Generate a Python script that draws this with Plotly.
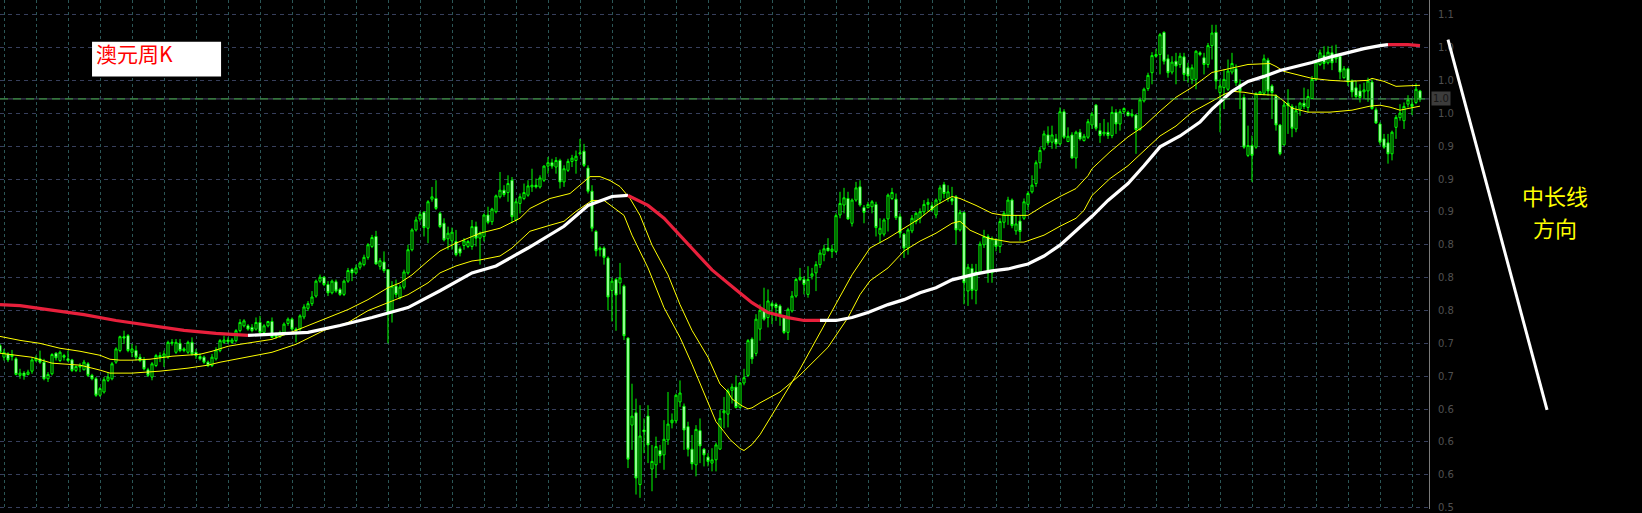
import plotly.graph_objects as go

# ---------------- data: weekly AUD candles (bar index 0..355) ----------------
bars = list(range(356))

opens = [
 .7633,.7510,.7545,.7517,.7492,.7316,.7340,.7326,.7361,.7474,
 .7492,.7457,.7280,.7333,.7552,.7474,.7527,.7492,.7481,.7369,
 .7421,.7376,.7439,.7316,.7280,.7104,.7139,.7263,.7280,.7457,
 .7580,.7728,.7739,.7562,.7580,.7510,.7481,.7376,.7298,.7421,
 .7527,.7517,.7510,.7658,.7562,.7658,.7580,.7562,.7668,.7562,
 .7517,.7510,.7457,.7421,.7492,.7580,.7668,.7693,.7668,.7686,
 .7792,.7844,.7844,.7827,.7809,.7880,.7774,.7844,.7890,.7756,
 .7728,.7756,.7869,.7915,.7809,.7809,.7939,.8031,.8080,.8161,
 .8320,.8362,.8284,.8196,.8313,.8232,.8179,.8320,.8443,.8408,
 .8468,.8496,.8574,.8690,.8796,.8478,.8524,.8443,.7985,.8267,
 .8144,.8256,.8408,.8655,.8866,.8982,.9053,.8884,.9194,.9201,
 .9042,.8937,.8771,.8750,.8743,.8665,.8700,.8690,.8690,.8901,
 .8778,.8796,.9025,.8954,.9060,.9219,.9289,.9264,.9395,.8972,
 .9148,.9201,.9236,.9324,.9342,.9324,.9395,.9546,.9582,.9536,
 .9606,.9377,.9501,.9596,.9606,.9677,.9705,.9525,.9279,.8849,
 .8655,.8672,.8567,.8221,.8337,.8302,.8267,.7714,.6786,.6917,
 .6152,.6734,.6882,.6318,.6363,.6515,.6469,.6628,.6811,.6832,
 .7033,.6987,.6769,.6529,.6363,.6727,.6529,.6445,.6381,.6416,
 .6530,.6917,.6903,.7157,.7192,.6974,.7235,.7316,.7703,.7550,
 .7809,.8020,.7932,.8080,.8073,.8056,.7932,.7774,.8003,.8161,
 .8338,.8338,.8179,.8373,.8408,.8496,.8602,.8673,.8637,.8637,
 .9025,.9131,.9201,.8937,.9184,.9325,.9103,.9103,.9113,.9138,
 .8821,.8821,.8983,.9201,.9194,.9007,.8821,.8673,.8856,.8955,
 .8990,.9060,.9138,.9124,.9025,.9184,.9349,.9201,.9201,.9219,
 .8866,.9050,.8215,.8454,.8222,.8420,.8708,.8796,.8408,.8761,
 .8690,.8948,.9025,.9184,.8856,.8960,.8990,.9138,.9272,.9360,
 .9582,.9730,.9878,.9801,.9836,.9783,1.0125,.9808,.9878,.9632,
 .9907,.9818,.9854,.9984,1.0196,.9924,.9889,.9907,.9871,1.0118,
 .9995,1.0125,1.0118,1.0083,1.0090,.9935,1.0241,1.0372,1.0541,1.0735,
 1.0735,1.0971,1.0689,1.0548,1.0664,1.0629,1.0710,1.0594,1.0470,1.0470,
 1.0753,1.0700,1.0629,1.0830,1.0971,1.0330,1.0382,1.0365,1.0548,1.0583,
 1.0418,1.0277,.9660,.9766,.9748,1.0312,1.0322,1.0675,1.0400,1.0294,
 .9984,.9773,1.0217,1.0182,.9942,1.0153,1.0217,1.0171,1.0266,1.0470,
 1.0629,1.0724,1.0647,1.0753,1.0689,1.0717,1.0488,1.0583,1.0453,1.0380,
 1.0347,1.0337,1.0347,1.0442,1.0146,.9995,.9836,.9794,.9677,.9959,
 1.0062,1.0030,1.0206,1.0206,1.0224,1.0347]

highs = [
 .7651,.7598,.7562,.7587,.7510,.7386,.7361,.7376,.7510,.7527,
 .7580,.7492,.7351,.7552,.7562,.7580,.7545,.7580,.7492,.7421,
 .7446,.7481,.7457,.7333,.7298,.7192,.7298,.7351,.7457,.7615,
 .7739,.7792,.7756,.7651,.7633,.7545,.7510,.7397,.7457,.7545,
 .7562,.7580,.7686,.7703,.7703,.7703,.7615,.7686,.7721,.7598,
 .7552,.7527,.7474,.7545,.7615,.7703,.7739,.7721,.7714,.7809,
 .7915,.7915,.7862,.7862,.7933,.7950,.7862,.7897,.7933,.7774,
 .7792,.7880,.7933,.7933,.7827,.7967,.8073,.8108,.8214,.8337,
 .8390,.8372,.8320,.8337,.8337,.8249,.8337,.8461,.8461,.8496,
 .8531,.8602,.8725,.8813,.8856,.8567,.8637,.8443,.8320,.8337,
 .8284,.8443,.8708,.8884,.9007,.9060,.9067,.9183,.9324,.9395,
 .9060,.8990,.8901,.8891,.8866,.8690,.8778,.8760,.8972,.8954,
 .8849,.9042,.9113,.9102,.9243,.9483,.9342,.9448,.9430,.9201,
 .9254,.9360,.9395,.9518,.9413,.9448,.9554,.9642,.9624,.9642,
 .9624,.9554,.9624,.9666,.9712,.9836,.9783,.9554,.9342,.8866,
 .8690,.8690,.8584,.8355,.8355,.8514,.8284,.7721,.7227,.7068,
 .6998,.6857,.6998,.6575,.6663,.6575,.6839,.7139,.6910,.7121,
 .7262,.7016,.6822,.6681,.6786,.6857,.6540,.6487,.6540,.6600,
 .6946,.7086,.7175,.7228,.7316,.7245,.7386,.7703,.7721,.7968,
 .8073,.8250,.8232,.8102,.8091,.8073,.7950,.8038,.8214,.8355,
 .8461,.8373,.8479,.8461,.8532,.8655,.8708,.8778,.8708,.9043,
 .9272,.9314,.9272,.9201,.9378,.9395,.9131,.9166,.9184,.9166,
 .8990,.8990,.9254,.9314,.9254,.9043,.8831,.8884,.9025,.9060,
 .9096,.9184,.9201,.9166,.9201,.9342,.9378,.9342,.9325,.9237,
 .9080,.9060,.8504,.8504,.8504,.8743,.8867,.8820,.8796,.8779,
 .8990,.9068,.9219,.9201,.9025,.9025,.9201,.9279,.9448,.9607,
 .9748,.9924,.9970,.9977,.9889,1.0171,1.0153,.9959,.9907,.9924,
 .9942,.9889,1.0048,1.0125,1.0206,1.0005,1.0048,1.0012,1.0182,1.0153,
 1.0153,1.0171,1.0136,1.0153,1.0100,1.0277,1.0382,1.0541,1.0760,1.0795,
 1.0964,1.0982,1.0735,1.0717,1.0753,1.0753,1.0753,1.0647,1.0629,1.0781,
 1.0770,1.0753,1.0858,1.1052,1.1052,1.0470,1.0576,1.0682,1.0753,1.0629,
 1.0470,1.0312,.9977,.9871,1.0330,1.0347,1.0735,1.0700,1.0418,1.0312,
 .9995,1.0241,1.0365,1.0206,1.0189,1.0231,1.0382,1.0365,1.0506,1.0682,
 1.0788,1.0823,1.0823,1.0830,1.0840,1.0724,1.0612,1.0594,1.0470,1.0453,
 1.0418,1.0435,1.0488,1.0470,1.0171,1.0012,.9889,.9889,.9924,1.0090,
 1.0206,1.0224,1.0301,1.0266,1.0428,1.0358]

lows = [
 .7545,.7474,.7457,.7474,.7316,.7280,.7270,.7316,.7333,.7457,
 .7439,.7263,.7245,.7316,.7474,.7457,.7474,.7457,.7351,.7351,
 .7351,.7369,.7298,.7263,.7087,.7087,.7122,.7245,.7263,.7439,
 .7562,.7651,.7562,.7510,.7474,.7457,.7369,.7298,.7263,.7404,
 .7457,.7404,.7492,.7633,.7545,.7562,.7562,.7545,.7527,.7492,
 .7474,.7439,.7404,.7404,.7474,.7562,.7651,.7651,.7651,.7668,
 .7774,.7827,.7792,.7774,.7792,.7756,.7756,.7827,.7714,.7703,
 .7714,.7739,.7844,.7792,.7668,.7791,.7914,.8003,.8055,.8144,
 .8302,.8267,.8161,.8179,.8196,.8161,.8161,.8302,.8320,.8390,
 .8443,.8478,.8549,.8672,.8496,.8443,.8408,.7657,.7879,.8144,
 .8126,.8232,.8390,.8637,.8849,.8954,.8796,.8725,.9166,.9078,
 .8884,.8743,.8655,.8655,.8584,.8584,.8655,.8672,.8655,.8690,
 .8496,.8743,.8926,.8919,.9042,.9201,.9219,.9166,.8937,.8954,
 .9042,.9183,.9219,.9271,.9307,.9307,.9377,.9465,.9518,.9465,
 .9307,.9324,.9483,.9536,.9465,.9659,.9536,.9254,.8849,.8584,
 .8584,.8496,.8010,.7890,.7791,.8179,.7692,.6328,.6522,.6046,
 .6011,.6487,.6381,.6081,.6222,.6381,.6310,.6575,.6751,.6804,
 .6980,.6522,.6452,.6310,.6240,.6381,.6346,.6346,.6293,.6293,
 .6523,.6752,.6762,.7016,.6963,.6963,.7210,.7298,.7439,.7520,
 .7686,.7897,.7827,.7862,.7897,.7844,.7756,.7693,.7985,.8144,
 .8320,.8179,.8144,.8338,.8214,.8461,.8532,.8637,.8567,.8620,
 .8990,.9043,.8972,.8902,.9166,.9113,.8937,.9096,.9043,.8796,
 .8725,.8796,.8849,.9184,.8972,.8778,.8567,.8602,.8831,.8926,
 .8937,.9025,.9060,.9060,.8990,.9148,.9201,.9166,.9131,.8708,
 .8849,.8074,.8056,.8126,.8074,.8400,.8673,.8303,.8303,.8638,
 .8620,.8884,.8920,.8884,.8814,.8750,.8972,.9078,.9254,.9325,
 .9519,.9713,.9766,.9730,.9730,.9766,.9836,.9801,.9625,.9519,
 .9818,.9808,.9836,.9942,.9924,.9794,.9864,.9836,.9843,.9889,
 .9924,1.0100,1.0076,1.0065,.9677,.9924,1.0224,1.0347,1.0418,1.0700,
 1.0523,1.0629,1.0488,1.0523,1.0418,1.0594,1.0453,1.0435,1.0418,1.0365,
 1.0717,1.0523,1.0594,1.0682,1.0365,.9907,1.0153,1.0347,1.0523,1.0400,
 1.0153,.9730,.9642,.9378,.9730,1.0301,1.0301,1.0294,1.0048,.9924,
 .9660,.9766,.9889,.9854,.9907,1.0083,1.0153,1.0118,1.0259,1.0453,
 1.0612,1.0576,1.0629,1.0569,1.0647,1.0470,1.0478,1.0400,1.0277,1.0266,
 1.0224,1.0259,1.0231,1.0146,.9995,.9773,.9730,.9572,.9607,.9836,
 1.0030,.9942,1.0171,1.0090,1.0206,1.0231]

closes = [
 .7562,.7562,.7481,.7538,.7326,.7340,.7312,.7351,.7481,.7499,
 .7457,.7280,.7326,.7538,.7503,.7562,.7510,.7474,.7369,.7411,
 .7404,.7457,.7316,.7280,.7104,.7175,.7270,.7298,.7439,.7598,
 .7728,.7714,.7580,.7598,.7510,.7474,.7386,.7316,.7439,.7527,
 .7510,.7545,.7668,.7668,.7668,.7580,.7598,.7668,.7545,.7527,
 .7492,.7457,.7421,.7510,.7587,.7686,.7693,.7675,.7693,.7792,
 .7880,.7897,.7809,.7792,.7880,.7774,.7844,.7890,.7721,.7728,
 .7774,.7862,.7915,.7809,.7792,.7950,.8045,.8080,.8151,.8320,
 .8362,.8284,.8196,.8320,.8214,.8179,.8320,.8433,.8408,.8461,
 .8514,.8574,.8708,.8785,.8503,.8538,.8433,.7967,.8267,.8179,
 .8256,.8418,.8655,.8866,.8972,.9032,.8891,.9166,.9219,.9095,
 .8901,.8760,.8831,.8842,.8602,.8619,.8750,.8743,.8901,.8778,
 .8831,.9025,.8947,.9088,.9229,.9289,.9243,.9360,.9007,.9166,
 .9219,.9264,.9335,.9342,.9324,.9420,.9546,.9582,.9546,.9606,
 .9377,.9518,.9596,.9631,.9652,.9687,.9554,.9279,.8884,.8644,
 .8672,.8574,.8151,.8320,.8172,.8355,.7738,.6423,.6882,.6222,
 .6670,.6716,.6575,.6399,.6557,.6459,.6635,.6797,.6839,.7104,
 .7128,.6734,.6529,.6374,.6741,.6564,.6469,.6399,.6416,.6575,
 .6857,.6939,.7150,.7192,.6974,.7235,.7291,.7686,.7492,.7915,
 .8010,.7915,.8109,.8056,.8038,.7960,.7774,.8020,.8161,.8338,
 .8362,.8285,.8338,.8398,.8496,.8620,.8665,.8644,.8662,.9018,
 .9148,.9208,.8983,.9184,.9314,.9131,.9053,.9138,.9166,.8891,
 .8884,.8972,.9237,.9265,.8997,.8831,.8673,.8866,.8990,.9043,
 .9060,.9138,.9159,.9078,.9184,.9314,.9254,.9272,.9173,.8866,
 .9050,.8303,.8468,.8222,.8420,.8715,.8796,.8408,.8772,.8690,
 .8955,.9043,.9184,.8912,.8930,.8849,.9166,.9254,.9343,.9582,
 .9713,.9889,.9794,.9878,.9783,1.0125,.9854,.9864,.9632,.9907,
 .9836,.9864,1.0019,1.0100,.9949,.9871,.9907,.9871,1.0118,.9995,
 1.0125,1.0160,1.0083,1.0100,.9935,1.0252,1.0365,1.0513,1.0724,1.0717,
 1.0946,1.0664,1.0541,1.0654,1.0612,1.0717,1.0523,1.0506,1.0594,1.0770,
 1.0735,1.0629,1.0830,1.0964,1.0453,1.0400,1.0470,1.0559,1.0640,1.0435,
 1.0347,.9748,.9766,.9660,1.0322,1.0337,1.0689,1.0347,1.0330,.9984,
 .9677,1.0196,1.0189,.9949,1.0136,1.0217,1.0182,1.0287,1.0470,1.0654,
 1.0753,1.0640,1.0760,1.0647,1.0710,1.0548,1.0583,1.0442,1.0337,1.0287,
 1.0277,1.0358,1.0453,1.0160,1.0005,.9801,.9748,.9677,.9907,1.0065,
 1.0111,1.0182,1.0252,1.0182,1.0365,1.0259]

# long moving average (white when rising, red when falling)
long_ma_x = [0,5,12,21,29,37,46,54,62,68,77,85,93,102,110,118,124,132,141,
             147,153,157,162,166,170,174,178,184,188,192,197,201,205,209,213,217,222,226,230,
             234,238,244,248,252,257,261,265,269,273,277,282,286,290,295,300,303,308,312,316,
             320,324,328,333,337,341,345,347,352,355]
long_ma_y = [.8070,.8059,.8017,.7964,.7901,.7848,.7795,.7763,.7742,
             .7752,.7774,.7848,.7932,.8038,.8218,.8408,.8482,.8673,.8905,
             .9127,.9222,.9233,.9127,.8990,.8810,.8620,.8440,.8228,.8091,
             .7985,.7932,.7901,.7901,.7901,.7932,.7985,.8070,.8123,.8197,
             .8250,.8334,.8398,.8429,.8450,.8503,.8588,.8704,.8852,.9011,
             .9180,.9360,.9550,.9751,.9867,1.0015,1.0153,1.0343,1.0449,1.0502,
             1.0565,1.0608,1.0650,1.0713,1.0756,1.0798,1.0830,1.0840,1.0840,1.0830]
long_ma_turns = [62, 157, 205, 347]

# two thin yellow averages
yellow1_x = [0,5,10,15,20,25,27.5,30,33,37.5,
             43,50,53,57,60,68,74,81,87,92,
             97,100,103,107,110,114,118,120,125,130,
             132.5,137.5,142.5,145,147.5,150,152.5,155,157.5,160,
             163,167,170,173,177,180,182,183,185.5,187,
             188,190,195,200,204,207,212,215,217.5,222,
             226,230,234,238,240,242.5,247,252.5,256,261,
             265,269,271,273,277.5,282,286,290,294,298,
             303,306,308,311,314,319,321,323,327,332.5,
             338,342.5,345,347.5,350,355]
yellow1_y = [.7731,.7689,.7657,.7605,.7573,.7530,.7488,.7478,.7478,.7488,
             .7520,.7541,.7573,.7626,.7647,.7700,.7795,.7911,.8017,.8123,
             .8250,.8302,.8387,.8535,.8641,.8725,.8799,.8831,.8884,.8990,
             .9095,.9201,.9254,.9339,.9434,.9434,.9392,.9328,.9201,.9021,
             .8704,.8387,.8070,.7795,.7509,.7224,.7139,.7065,.6991,.6959,
             .6970,.7023,.7139,.7319,.7488,.7615,.7932,.8176,.8324,.8461,
             .8641,.8747,.8831,.8937,.8958,.8863,.8778,.8736,.8736,.8810,
             .8905,.8990,.9074,.9233,.9413,.9550,.9709,.9867,.9973,1.0121,
             1.0237,1.0311,1.0343,1.0333,1.0311,1.0301,1.0237,1.0163,1.0121,1.0121,
             1.0142,1.0185,1.0195,1.0174,1.0142,1.0185]
yellow2_x = [0,8,13,20,25,27.5,33,40,47,52,
             55,60,68,74,81,87,92,97,102,107,
             110,114,118,120,125,128,132.5,137.5,141,144,
             147,148,151,153,156,158,162,166,170,173,
             177,179,181,182.5,185,186,188,190,195,200,
             203,209,213,217.5,222,226,230,234,238,240,
             244,248,251,257,261,265,269,272,273,277.5,
             282,286,290,294,298,303,307.5,312,317.5,319,
             321,328,332.5,337,342,343,346,349,355]
yellow2_y = [.7552,.7509,.7446,.7425,.7372,.7340,.7340,.7361,.7393,.7425,
             .7456,.7499,.7562,.7647,.7795,.7879,.8006,.8091,.8176,.8302,
             .8408,.8482,.8535,.8546,.8588,.8673,.8852,.8916,.8958,.9064,
             .9148,.9180,.9180,.9117,.9021,.8810,.8461,.8038,.7721,.7435,
             .7034,.6822,.6716,.6632,.6537,.6515,.6579,.6684,.7034,.7383,
             .7615,.8070,.8387,.8673,.8778,.8884,.8990,.9127,.9222,.9201,
             .9127,.9043,.9021,.9021,.9127,.9222,.9307,.9444,.9518,.9698,
             .9857,.9973,1.0132,1.0280,1.0385,1.0544,1.0586,1.0629,1.0639,1.0608,
             1.0555,1.0481,1.0460,1.0449,1.0460,1.0481,1.0449,1.0396,1.0407]

# price axis grid levels and their (truncated) labels
price_grid = [1.1157,1.0807,1.0457,1.0107,0.9757,0.9407,0.9057,0.8707,
              0.8357,0.8007,0.7657,0.7307,0.6957,0.6607,0.6257,0.5907]
price_labels = ['1.1','1.0','1.0','1.0','0.9','0.9','0.9','0.8',
                '0.8','0.8','0.7','0.7','0.6','0.6','0.6','0.5']
time_grid = list(range(1, 357, 8))
current_price = 1.0262
y_range = [0.5892, 1.1316]
x_range = [0, 357.25]

title_text = '澳元周K'
note_lines = ['中长线', '方向']

# ---------------- figure ----------------
fig = go.Figure()

fig.add_trace(go.Candlestick(
    x=bars, open=opens, high=highs, low=lows, close=closes,
    increasing=dict(line=dict(color='#00FF00', width=1), fillcolor='#000000'),
    decreasing=dict(line=dict(color='#00FF00', width=1), fillcolor='#FFFFFF'),
    whiskerwidth=0, hoverinfo='skip', showlegend=False))

for xs, ys in ((yellow1_x, yellow1_y), (yellow2_x, yellow2_y)):
    fig.add_trace(go.Scatter(x=xs, y=ys, mode='lines',
                             line=dict(color='#FFFF00', width=1),
                             hoverinfo='skip', showlegend=False))

# split the long average at its turning points: red falling, white rising
cuts = [long_ma_x[0]] + long_ma_turns + [long_ma_x[-1]]
for a, b in zip(cuts[:-1], cuts[1:]):
    seg = [(x, y) for x, y in zip(long_ma_x, long_ma_y) if a <= x <= b]
    sx = [p[0] for p in seg]
    sy = [p[1] for p in seg]
    col = '#FFFFFF' if sy[-1] >= sy[0] else '#E8203C'
    fig.add_trace(go.Scatter(x=sx, y=sy, mode='lines',
                             line=dict(color=col, width=3.2),
                             hoverinfo='skip', showlegend=False))

fig.update_layout(
    width=1642, height=513,
    margin=dict(l=0, r=213, t=0, b=0),
    paper_bgcolor='#000000', plot_bgcolor='#000000',
    showlegend=False, hovermode=False, boxgap=0.25,
    xaxis=dict(range=x_range, rangeslider=dict(visible=False),
               showticklabels=False, ticks='', tickvals=time_grid,
               showgrid=True, gridcolor='#2B5656', gridwidth=1, griddash='3px,3px',
               zeroline=False, showline=False, fixedrange=True),
    yaxis=dict(range=y_range, side='right', tickvals=price_grid, ticktext=price_labels,
               showgrid=True, gridcolor='#373F5C', gridwidth=1, griddash='4px,4px',
               zeroline=False, showline=True, linecolor='#7A7A7A', linewidth=1,
               ticks='', ticklabelstandoff=6, ticklabeloverflow='allow',
               tickfont=dict(family='DejaVu Sans', size=10, color='#505050'),
               fixedrange=True),
    shapes=[
        dict(type='line', xref='paper', yref='y', x0=0, x1=1, y0=current_price, y1=current_price,
             line=dict(color='#4A4A6A', width=1), layer='below'),
        dict(type='line', xref='paper', yref='y', x0=0, x1=1, y0=current_price, y1=current_price,
             line=dict(color='#3DAA3D', width=1, dash='8px,5px'), layer='above'),
        dict(type='rect', xref='paper', yref='paper', x0=0.0644, x1=0.1547, y0=0.8499, y1=0.9181,
             fillcolor='#FFFFFF', line=dict(width=0), layer='above'),
        dict(type='line', xref='paper', yref='paper', x0=1.0133, y0=0.9220, x1=1.0826, y1=0.1949,
             line=dict(color='#FFFFFF', width=3)),
    ],
    annotations=[
        dict(text=title_text, xref='paper', yref='paper', x=0.0658, y=0.8950,
             xanchor='left', yanchor='middle', showarrow=False,
             font=dict(family='Noto Sans CJK SC', size=21, color='#FF0000')),
        dict(text=note_lines[0], xref='paper', yref='paper', x=1.0882, y=1 - 197 / 513,
             xanchor='center', yanchor='middle', showarrow=False,
             font=dict(family='Noto Sans CJK SC', size=22, color='#FFFF00')),
        dict(text=note_lines[1], xref='paper', yref='paper', x=1.0882, y=1 - 229 / 513,
             xanchor='center', yanchor='middle', showarrow=False,
             font=dict(family='Noto Sans CJK SC', size=22, color='#FFFF00')),
        dict(text='1.0', xref='paper', yref='y', x=1.0014, y=current_price,
             xanchor='left', yanchor='middle', showarrow=False, bgcolor='#3C3C3C',
             borderpad=1, font=dict(family='DejaVu Sans', size=10, color='#151515')),
    ],
)

fig.write_html("out.html", config={'displayModeBar': False},
               post_script="document.body.style.margin='0';document.body.style.overflow='hidden';")
